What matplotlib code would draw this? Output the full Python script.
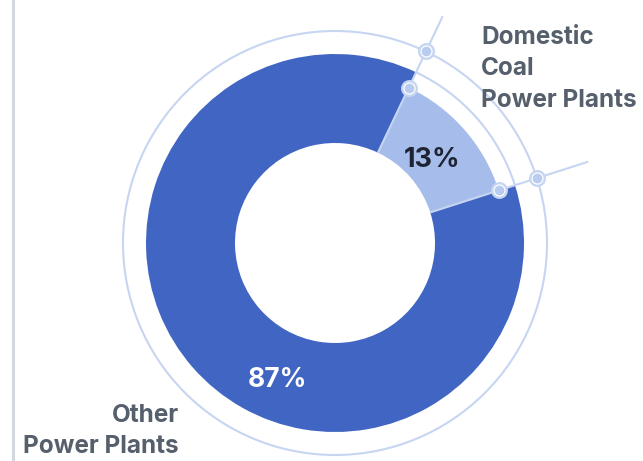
import numpy as np
import matplotlib
matplotlib.use("Agg")
import matplotlib.pyplot as plt
from matplotlib.patches import Arc, Circle

# Data
categories = ["Domestic Coal Power Plants", "Other Power Plants"]
label_lines = [["Domestic", "Coal", "Power Plants"], ["Other", "Power Plants"]]
shares = [13, 87]
pct_labels = [f"{v}%" for v in shares]

# Canvas (data units = pixels, y pointing up)
W, H = 643, 461
fig = plt.figure(figsize=(W / 100, H / 100), dpi=100)
ax = fig.add_axes([0, 0, 1, 1])

cx, cy = 335, H - 243
r_out, r_in, r_small, r_ring = 189, 100, 172, 212
start = 64.6

dark = "#4165c2"
light = "#a6bdec"
line_c = "#c6d5f1"
dot_c = "#b9cbee"
text_c = "#56606d"
plt.rcParams["font.family"] = ["Inter", "DejaVu Sans"]

wedges, _ = ax.pie(shares, radius=r_out, center=(cx, cy), startangle=start,
                   counterclock=False, colors=[light, dark],
                   wedgeprops=dict(width=r_out - r_in, linewidth=0))
# highlighted slice drawn slightly shorter than the rest of the ring
wedges[0].set_radius(r_small)
wedges[0].set_width(r_small - r_in)

total = sum(shares)
b1 = start
b2 = start - shares[0] / total * 360

# outline of the full ring radius across the short slice
ax.add_patch(Arc((cx, cy), 2 * r_out, 2 * r_out, theta1=b2, theta2=b1,
                 color=line_c, lw=1.5, zorder=3))
# outer guide circle
ax.add_patch(Circle((cx, cy), r_ring, fill=False, ec=line_c, lw=1.5, zorder=3))

# leader lines along the slice boundaries, with ring markers
for ang, r_end in zip([b1, b2], [251, 266]):
    c, s = np.cos(np.radians(ang)), np.sin(np.radians(ang))
    ax.plot([cx + r_in * c, cx + r_end * c], [cy + r_in * s, cy + r_end * s],
            color=line_c, lw=1.5, zorder=4, solid_capstyle="butt")
    for r in (r_small, r_ring):
        ax.plot(cx + r * c, cy + r * s, "o", ms=10.5, mfc="white", mec=line_c,
                mew=1.7, zorder=5)
        ax.plot(cx + r * c, cy + r * s, "o", ms=6, color=dot_c, zorder=6)

# percentage labels
ax.text(432, H - 167, pct_labels[0], color="#1d2330", fontsize=19.5,
        fontweight="bold", ha="center", va="baseline", zorder=7)
ax.text(277, H - 387, pct_labels[1], color="white", fontsize=19,
        fontweight="bold", ha="center", va="baseline", zorder=7)

# category labels
for txt, yb in zip(label_lines[0], [44, 75.5, 107]):
    ax.text(481, H - yb, txt, color=text_c, fontsize=17.5, fontweight="bold",
            ha="left", va="baseline")
for txt, yb in zip(label_lines[1], [421.5, 453]):
    ax.text(179, H - yb, txt, color=text_c, fontsize=17.5, fontweight="bold",
            ha="right", va="baseline")

# left border rule
ax.axvline(13, color="#d3d8de", lw=2.2)

ax.set_xlim(0, W)
ax.set_ylim(0, H)
ax.set_aspect("auto")
ax.axis("off")
fig.savefig("out.png", dpi=100)
